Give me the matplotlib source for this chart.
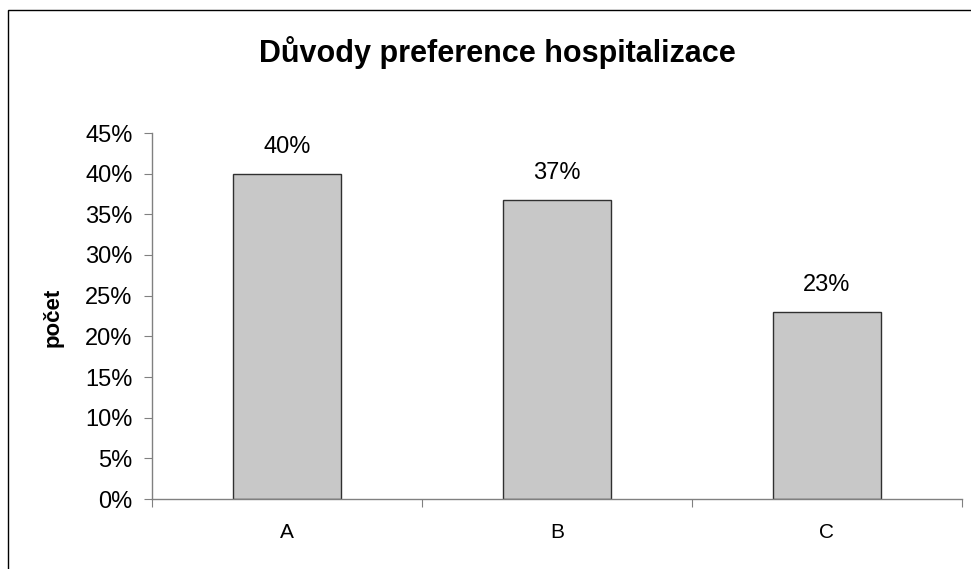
import matplotlib
matplotlib.use("Agg")
import matplotlib.pyplot as plt
from matplotlib.patches import Rectangle
from matplotlib.ticker import PercentFormatter, FixedLocator, NullFormatter

categories = ["A", "B", "C"]
values = [0.40, 0.368, 0.23]
labels = ["40%", "37%", "23%"]

plt.rcParams['font.family'] = ['Liberation Sans', 'DejaVu Sans']

W, H = 971, 569
fig = plt.figure(figsize=(W / 100, H / 100), dpi=100)
fig.patch.set_facecolor("white")

# outer border
fig.patches.append(Rectangle((8 / W, -0.1), 2.0, 1 - 10 / H + 0.1, transform=fig.transFigure,
                             fill=False, edgecolor="black", linewidth=1.0))

ax = fig.add_axes([152 / W, 1 - 499 / H, (962 - 152) / W, (499 - 133) / H])
x = list(range(len(categories)))
ax.bar(x, values, width=0.4, color="#C8C8C8", edgecolor="#303030", linewidth=1.0, zorder=2)

ax.set_xlim(-0.5, len(categories) - 0.5)
ax.set_ylim(0, 0.45)
ax.yaxis.set_major_locator(FixedLocator([i * 0.05 for i in range(10)]))
ax.yaxis.set_major_formatter(PercentFormatter(1.0, decimals=0))

ax.xaxis.set_major_locator(FixedLocator([i - 0.5 for i in range(len(categories) + 1)]))
ax.xaxis.set_major_formatter(NullFormatter())
ax.xaxis.set_minor_locator(FixedLocator(x))
ax.set_xticklabels(categories, minor=True)
ax.tick_params(axis="x", which="minor", length=0, pad=17, labelsize=15)
ax.tick_params(axis="x", which="major", length=6, direction="out", color="#808080")
ax.tick_params(axis="y", length=6, direction="out", color="#808080", labelsize=17, pad=8)

for s in ["top", "right"]:
    ax.spines[s].set_visible(False)
for s in ["left", "bottom"]:
    ax.spines[s].set_color("#808080")
    ax.spines[s].set_linewidth(1.0)

for xi, v, lab in zip(x, values, labels):
    ax.annotate(lab, (xi, v), xytext=(0, 15), textcoords="offset points",
                ha="center", va="baseline", fontsize=17)

fig.text(53.5 / W, 1 - 317 / H, "počet", rotation=90, ha="center", va="center",
         fontsize=16, fontweight="bold")
fig.text(497 / W, 1 - 62 / H, "Důvody preference hospitalizace", ha="center", va="baseline",
         fontsize=22, fontweight="bold")

fig.savefig("out.png", dpi=100, facecolor="white")
